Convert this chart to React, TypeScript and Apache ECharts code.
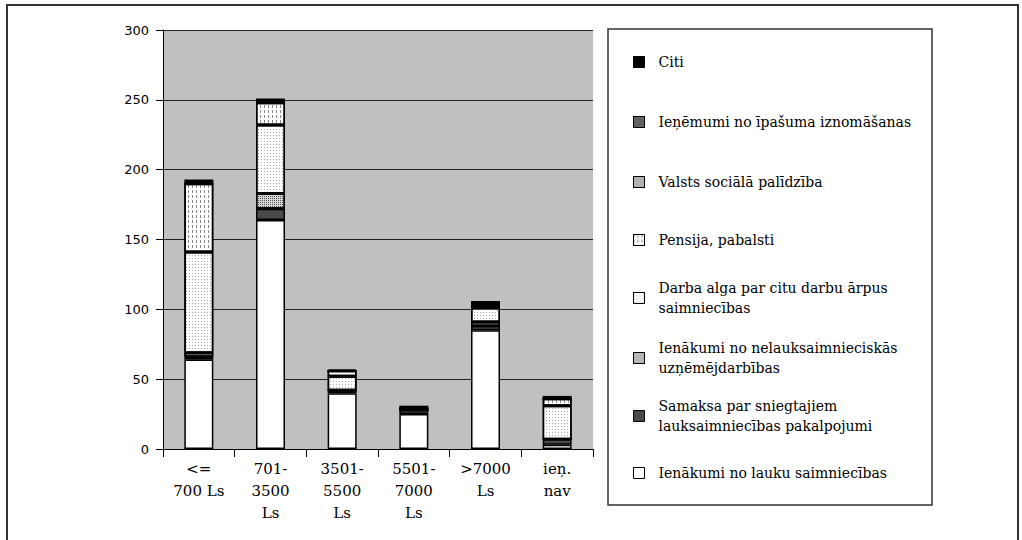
import React, { useEffect, useRef } from "react";
import * as echarts from "echarts";

const categories = ["<=\n700 Ls", "701-\n3500\nLs", "3501-\n5500\nLs", "5501-\n7000\nLs", ">7000\nLs", "ieņ.\nnav"];

// stacked bottom -> top
const lauku = [64, 164, 40, 25, 85, 3];
const samaksa = [2, 8, 2, 3, 3, 4];
const nelauks = [3, 11, 0, 0, 3, 0];
const darbaAlga = [72, 49, 10, 0, 10, 24];
const pensija = [49, 16, 4, 1, 2, 5];
const valsts = [0, 0, 0, 0, 0, 0];
const ipasuma = [0, 0, 0, 0, 0, 0];
const citi = [3, 3, 1, 2, 3, 2];

const seriesNames = [
  "Ienākumi no lauku saimniecības",
  "Samaksa par sniegtajiem lauksaimniecības pakalpojumi",
  "Ienākumi no nelauksaimnieciskās uzņēmējdarbības",
  "Darba alga par citu darbu ārpus saimniecības",
  "Pensija, pabalsti",
  "Valsts sociālā palīdzība",
  "Ieņēmumi no īpašuma iznomāšanas",
  "Citi",
];
const seriesData = [lauku, samaksa, nelauks, darbaAlga, pensija, valsts, ipasuma, citi];

// legend display text (top -> bottom)
const legendOrder = [7, 6, 5, 4, 3, 2, 1, 0];
const legendText: Record<string, string> = {
  "Ienākumi no lauku saimniecības": "Ienākumi no lauku saimniecības",
  "Samaksa par sniegtajiem lauksaimniecības pakalpojumi": "Samaksa par sniegtajiem\nlauksaimniecības pakalpojumi",
  "Ienākumi no nelauksaimnieciskās uzņēmējdarbības": "Ienākumi no nelauksaimnieciskās\nuzņēmējdarbības",
  "Darba alga par citu darbu ārpus saimniecības": "Darba alga par citu darbu ārpus\nsaimniecības",
  "Pensija, pabalsti": "Pensija, pabalsti",
  "Valsts sociālā palīdzība": "Valsts sociālā palīdzība",
  "Ieņēmumi no īpašuma iznomāšanas": "Ieņēmumi no īpašuma iznomāšanas",
  Citi: "Citi",
};
const legendCenters = [62, 122, 182, 240, 298, 358, 416, 473];

const fills = ["#ffffff", "#4a4a4a", "#d6d6d6", "#ffffff", "#ffffff", "#d0d0d0", "#777777", "#000000"];
const decals: any[] = [
  null,
  null,
  { symbol: "rect", symbolSize: 1, dashArrayX: [1, 1], dashArrayY: [1, 1], color: "#555555" },
  { symbol: "rect", symbolSize: 1, dashArrayX: [1, 2], dashArrayY: [1, 2], color: "#aaaaaa" },
  { symbol: "rect", symbolSize: 1, dashArrayX: [1, 3], dashArrayY: [3, 2], color: "#888888" },
  { symbol: "rect", symbolSize: 1, dashArrayX: [1, 1], dashArrayY: [1, 1], color: "#555555" },
  { symbol: "rect", symbolSize: 1, dashArrayX: [1, 1], dashArrayY: [1, 1], color: "#222222" },
  null,
];

const SERIF = "DejaVu Serif";
const SANS = "DejaVu Sans";

export default function App() {
  const ref = useRef<HTMLDivElement>(null);
  useEffect(() => {
    document.body.style.margin = "0";
    const chart = echarts.init(ref.current!, null, { renderer: "svg" });
    const legends = legendOrder.map((si, i) => {
      const name = seriesNames[si];
      const lines = legendText[name].split("\n").length;
      const h = lines * 20;
      return {
        data: [name],
        orient: "vertical",
        left: 633,
        top: legendCenters[i] - h / 2,
        padding: 0,
        itemWidth: 11,
        itemHeight: 11,
        icon: "rect",
        selectedMode: false,
        itemStyle: { borderColor: "#000", borderWidth: 1 },
        formatter: (n: string) => legendText[n],
        textStyle: { fontFamily: SERIF, fontSize: 14, lineHeight: 20, color: "#000", padding: [0, 0, 0, 9] },
      };
    });
    chart.setOption({
      animation: false,
      backgroundColor: "#fff",
      grid: { left: 163, right: 429, top: 30, bottom: 91, show: true, backgroundColor: "#c0c0c0", borderWidth: 0 },
      legend: legends,
      graphic: [
        { type: "rect", shape: { x: 7, y: 5, width: 1011, height: 560 }, style: { fill: "none", stroke: "#333", lineWidth: 2 }, silent: true, z: -10 },
        { type: "rect", shape: { x: 608, y: 29, width: 324, height: 476 }, style: { fill: "#fff", stroke: "#333", lineWidth: 1.5 }, silent: true, z: -5 },
      ],
      xAxis: {
        type: "category",
        data: categories,
        boundaryGap: true,
        axisLine: { lineStyle: { color: "#000", width: 1 } },
        axisTick: { show: true, length: 8, lineStyle: { color: "#000" } },
        axisLabel: { fontFamily: SERIF, fontSize: 15, lineHeight: 22, color: "#000", margin: 9, interval: 0 },
      },
      yAxis: {
        type: "value",
        min: 0,
        max: 300,
        interval: 50,
        axisLine: { show: true, lineStyle: { color: "#000", width: 1 } },
        axisTick: { show: true, length: 7, lineStyle: { color: "#000" } },
        axisLabel: { fontFamily: SANS, fontSize: 13, color: "#000", margin: 14 },
        splitLine: { lineStyle: { color: "#222", width: 1 } },
      },
      series: seriesNames.map((name, i) => ({
        name,
        type: "bar",
        stack: "total",
        barWidth: 29,
        data: seriesData[i],
        itemStyle: {
          color: fills[i],
          borderColor: "#000",
          borderWidth: 1.5,
          ...(decals[i] ? { decal: decals[i] } : {}),
        },
      })),
    });
    return () => chart.dispose();
  }, []);
  return <div ref={ref} style={{ width: 1022, height: 540 }} />;
}
